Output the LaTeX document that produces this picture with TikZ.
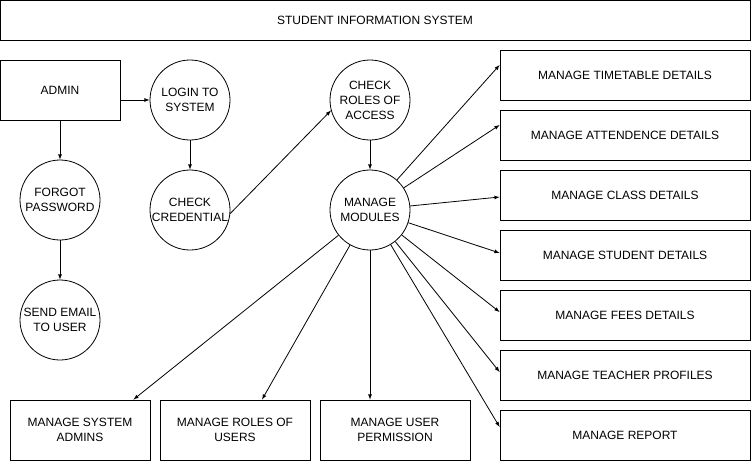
\documentclass[tikz,border=0pt]{standalone}
\usepackage{fontspec}
\setmainfont{Liberation Sans}

\tikzset{
    box/.style={draw, rectangle, inner sep=2pt, align=center, font=\fontsize{12}{15}\selectfont},
    proc/.style={draw, circle, minimum size=80pt, inner sep=0pt, align=center, font=\fontsize{12}{15}\selectfont}
}

\begin{document}
\begin{tikzpicture}[>=latex, x=1pt, y=-1pt, line width=0.8pt]
        \useasboundingbox (0, 0) rectangle (751, 461);

        \node[box, minimum width=750pt, minimum height=40pt] (title) at (375, 20){STUDENT INFORMATION SYSTEM};

        % 左侧登录流程
        \node[box, minimum width=120pt, minimum height=60pt] (admin) at (60, 90){ADMIN};
        \node[proc] (login) at (190, 100){LOGIN TO\\SYSTEM};
        \node[proc] (cred) at (190, 210){CHECK\\CREDENTIAL};
        \node[proc] (forgot) at (60, 200){FORGOT\\PASSWORD};
        \node[proc] (email) at (60, 320){SEND EMAIL\\TO USER};
        \node[proc] (roles) at (370, 100){CHECK\\ROLES OF\\ACCESS};
        \node[proc] (modules) at (370, 210){MANAGE\\MODULES};

        \draw[->] (admin.east |- login) -- (login);
        \draw[->] (admin) -- (forgot);
        \draw[->] (forgot) -- (email);
        \draw[->] (login) -- (cred);
        \draw[->] (cred.-5) -- (roles.195);
        \draw[->] (roles) -- (modules);

        % 通过foreach绘制右侧模块
        \foreach \n/\txt/\off [count=\i] in {tt/MANAGE TIMETABLE DETAILS/10, att/MANAGE ATTENDENCE DETAILS/10,
                cls/MANAGE CLASS DETAILS/-2, stu/MANAGE STUDENT DETAILS/2, fee/MANAGE FEES DETAILS/3,
                tea/MANAGE TEACHER PROFILES/3, rep/MANAGE REPORT/8}
            {
                \node[box, minimum width=250pt, minimum height=50pt] (\n) at (625, 15 + \i*60){\txt};
                \draw[->] (modules) -- ([yshift=\off pt]\n.west);
            }

        % 底部模块
        \node[box, minimum width=140pt, minimum height=60pt] (sysadm) at (80, 430){MANAGE SYSTEM\\ADMINS};
        \node[box, minimum width=150pt, minimum height=60pt] (userrole) at (235, 430){MANAGE ROLES OF\\USERS};
        \node[box, minimum width=150pt, minimum height=60pt] (perm) at (395, 430){MANAGE USER\\PERMISSION};

        \draw[->] (modules) -- ([xshift=-17pt]sysadm.north east);
        \draw[->] (modules) -- ([xshift=27pt]userrole.north);
        \draw[->] (modules) -- (modules |- perm.north);
    \end{tikzpicture}
\end{document}
